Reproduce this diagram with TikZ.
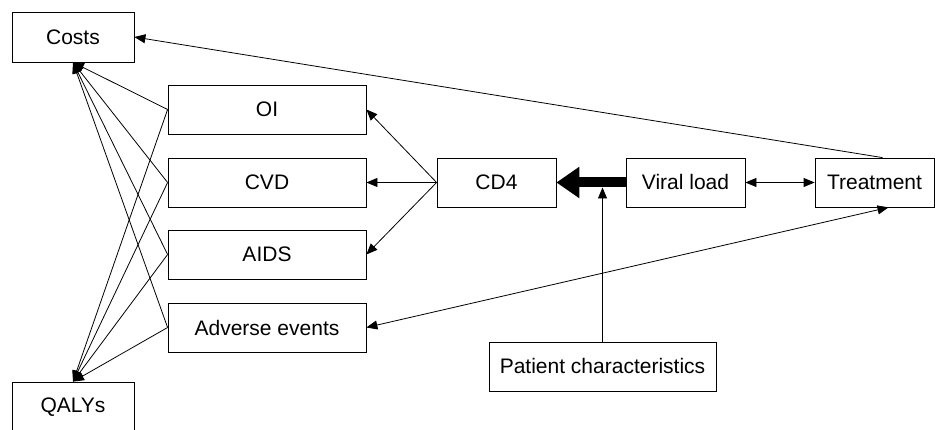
\documentclass[tikz,border=0pt]{standalone}
\usepackage{fontspec}
\setmainfont{Liberation Sans}
\usepackage{tikz}
\usetikzlibrary{arrows.meta}

\begin{document}
\begin{tikzpicture}[x=1pt,y=1pt,
    box/.style={draw,line width=0.8pt,inner sep=0pt,minimum height=49pt,
        font=\fontsize{21}{25}\selectfont},
    arr/.style={line width=0.8pt,-{Triangle[length=11pt,width=9pt]}},
    dbl/.style={line width=0.8pt,{Triangle[length=11pt,width=9pt]}-{Triangle[length=11pt,width=9pt]}}]
\useasboundingbox (0,0) rectangle (935,430);
\node[box,minimum width=122pt,minimum height=50pt] (costs) at (73,393) {Costs};
\node[box,minimum width=122pt,minimum height=50pt] (qaly) at (73,23) {QALYs};
\node[box,minimum width=198pt] (oi) at (267,320.5) {OI};
\node[box,minimum width=198pt] (cvd) at (267,247.5) {CVD};
\node[box,minimum width=198pt] (aids) at (267,175.5) {AIDS};
\node[box,minimum width=198pt] (ae) at (267,102.5) {Adverse events};
\node[box,minimum width=119pt] (cd4) at (496.5,247.5) {CD4};
\node[box,minimum width=119pt] (vl) at (685.5,247.5) {Viral load};
\node[box,minimum width=119pt] (tr) at (874.5,247.5) {Treatment};
\node[box,minimum width=227pt] (pc) at (602.5,63.5) {Patient characteristics};
\coordinate (hit) at (602.5,242.5);
\draw[line width=10pt,-{Triangle[length=23pt,width=30pt]}] (vl.west) -- (cd4.east);
\draw[arr] (pc) -- (hit);
\draw[dbl] (vl) -- (tr);
\draw[arr] ([xshift=8pt]tr.north) -- (costs.east);
\draw[dbl] (ae.east) -- ([xshift=14pt]tr.south);
\draw[arr] (cd4.west) -- (oi.east);
\draw[arr] (cd4.west) -- (cvd.east);
\draw[arr] (cd4.west) -- (aids.east);
% outcomes
\draw[arr] (oi.west) -- (costs.south);
\draw[arr] (cvd.west) -- (costs.south);
\draw[arr] (aids.west) -- (costs.south);
\draw[arr] (ae.west) -- (costs.south);
\draw[arr] (oi.west) -- (qaly.north);
\draw[arr] (cvd.west) -- (qaly.north);
\draw[arr] (aids.west) -- (qaly.north);
\draw[arr] (ae.west) -- (qaly.north);
\end{tikzpicture}
\end{document}
